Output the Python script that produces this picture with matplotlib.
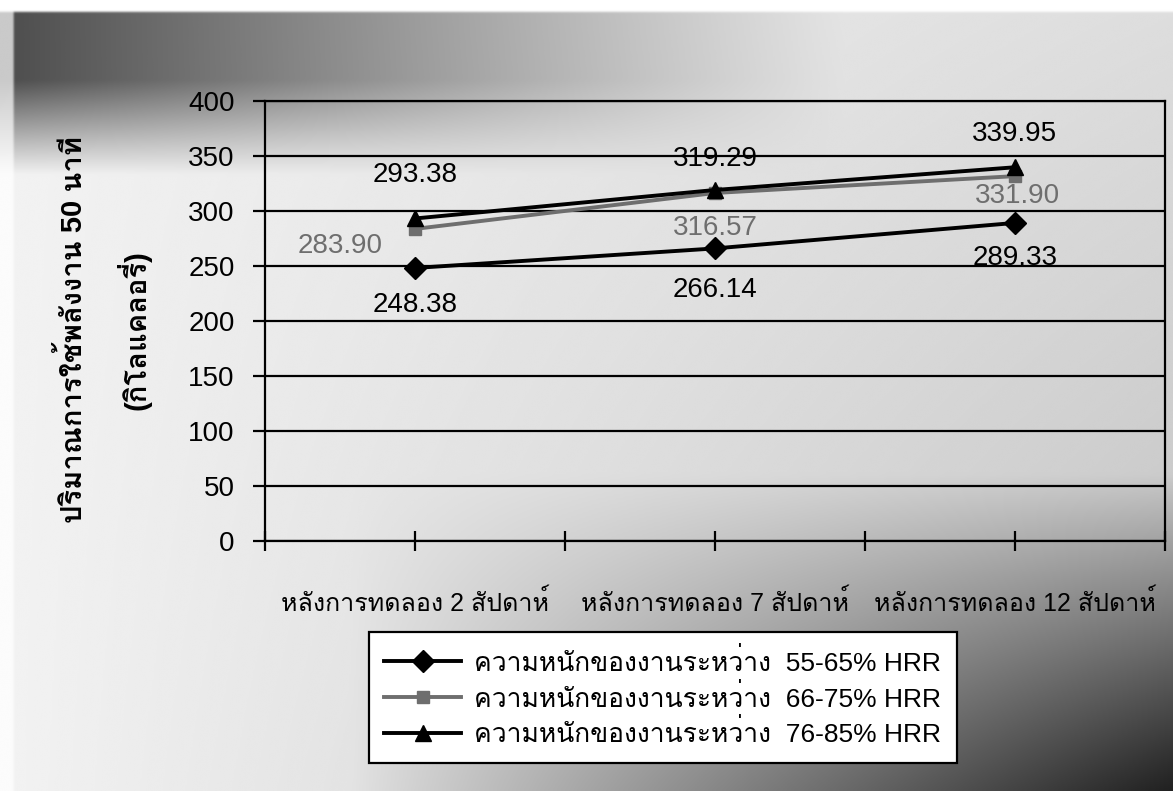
import numpy as np
import matplotlib
matplotlib.use("Agg")
import matplotlib.pyplot as plt
from matplotlib import font_manager
from matplotlib.ft2font import FT2Font

# data
categories = ["หลังการทดลอง 2 สัปดาห์", "หลังการทดลอง 7 สัปดาห์", "หลังการทดลอง 12 สัปดาห์"]
series_names = [
    "ความหนักของงานระหว่าง  55-65% HRR",
    "ความหนักของงานระหว่าง  66-75% HRR",
    "ความหนักของงานระหว่าง  76-85% HRR",
]
hrr_55_65 = [248.38, 266.14, 289.33]
hrr_66_75 = [283.90, 316.57, 331.90]
hrr_76_85 = [293.38, 319.29, 339.95]
y_ticks = [0, 50, 100, 150, 200, 250, 300, 350, 400]
y_label = "ปริมาณการใช้พลังงาน 50 นาที\n(กิโลแคลอรี่)"


def thai_fonts():
    # look for any installed font that has Thai glyphs
    found = []
    for f in font_manager.fontManager.ttflist:
        try:
            if FT2Font(f.fname).get_char_index(ord("ก")):
                if f.name not in found:
                    found.append(f.name)
        except Exception:
            pass
    return found


thai = thai_fonts()
base_family = ["Liberation Sans"] + thai + ["DejaVu Sans"]
plt.rcParams["font.family"] = base_family

fig = plt.figure(figsize=(11.73, 7.91), dpi=100)

# background: scanned-page style shading
h, w = 400, 600
yy, xx = np.mgrid[0:1:h * 1j, 0:1:w * 1j]
dark = np.zeros_like(xx)
band = (yy > 0.013)
band_fade = np.clip((0.22 - yy) / 0.12, 0, 1)
dark += band * band_fade * 0.65 * np.clip(1 - xx / 0.72, 0, 1) ** 1.1
dark += 0.05 + 0.08 * xx + 0.12 * xx * yy
corner = np.clip((xx - 0.3) / 0.7, 0, 1) * np.clip((yy - 0.6) / 0.4, 0, 1)
dark += 0.62 * corner ** 0.9
dark[yy < 0.013] = 0
dark[:, :int(0.012 * w)] *= 0.3
bg = fig.add_axes([0, 0, 1, 1], zorder=-1)
bg.imshow(1 - np.clip(dark, 0, 1), cmap="gray", vmin=0, vmax=1, aspect="auto",
          extent=[0, 1, 0, 1], interpolation="bicubic")
bg.axis("off")

ax = fig.add_axes([0.226, 0.316, 0.767, 0.556])
ax.set_facecolor("none")

x = np.arange(len(categories))
styles = [
    dict(color="black", marker="D", markersize=11),
    dict(color="#6e6e6e", marker="s", markersize=8),
    dict(color="black", marker="^", markersize=11),
]
all_series = [hrr_55_65, hrr_66_75, hrr_76_85]
for vals, name, st in zip(all_series, series_names, styles):
    ax.plot(x, vals, lw=2.8, label=name, color=st["color"], marker=st["marker"],
            markersize=st["markersize"], zorder=3)

# label offsets in points (dx, dy)
label_offsets = [
    [(0, -27), (0, -30), (0, -25)],
    [(-54, -12), (0, -25), (2, -14)],
    [(0, 31), (0, 22), (0, 24)],
]
for vals, st, offs in zip(all_series, styles, label_offsets):
    for xi, v, (dx, dy) in zip(x, vals, offs):
        ax.annotate(f"{v:.2f}", (xi, v), xytext=(dx, dy), textcoords="offset points",
                    ha="center", va="center", fontsize=20, color=st["color"])

ax.set_xlim(-0.5, 2.5)
ax.set_ylim(0, 400)
ax.set_yticks(y_ticks)
ax.set_xticks(x)
ax.set_xticklabels(categories, fontsize=18)
ax.set_xticks(np.arange(-0.5, 2.51, 1.0), minor=True)
ax.tick_params(axis="x", which="both", direction="inout", length=14, width=1.6)
ax.tick_params(axis="x", which="major", pad=28)
ax.tick_params(axis="y", direction="out", length=9, width=1.6, labelsize=20, pad=13)
ax.grid(axis="y", color="black", lw=1.6)
for s in ax.spines.values():
    s.set_linewidth(1.6)
    s.set_color("black")

fig.text(0.0895, 0.583, y_label, rotation=90, ha="center", va="center",
         fontsize=21, fontweight="bold", linespacing=2.0)

leg = ax.legend(loc="upper center", bbox_to_anchor=(0.565, 0.218),
                bbox_transform=fig.transFigure, fancybox=False, framealpha=1,
                edgecolor="black", prop=dict(size=19),
                handlelength=2.9, handletextpad=0.5, borderpad=0.6, labelspacing=0.3)
leg.get_frame().set_linewidth(1.6)

fig.savefig("out.png", dpi=100)
